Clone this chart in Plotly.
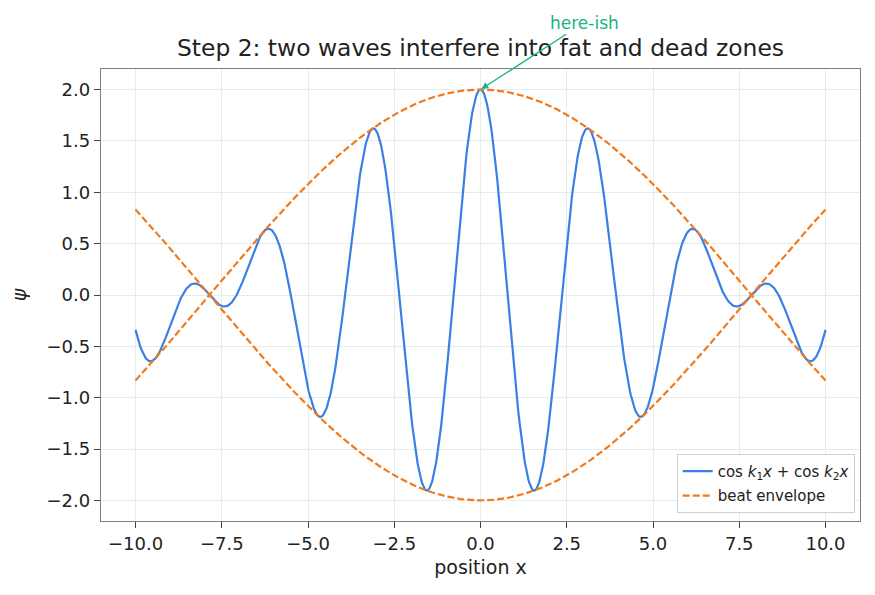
import numpy as np
import plotly.graph_objects as go

# Parameters: carrier k=2 (period pi), beat 0.2
k1 = 1.8
k2 = 2.2
x_range = [-10.0, 10.0]
n_points = 1000

x = np.linspace(x_range[0], x_range[1], n_points)
psi = np.cos(k1 * x) + np.cos(k2 * x)
env = 2 * np.cos((k2 - k1) / 2 * x)

xticks = [-10.0, -7.5, -5.0, -2.5, 0.0, 2.5, 5.0, 7.5, 10.0]
yticks = [-2.0, -1.5, -1.0, -0.5, 0.0, 0.5, 1.0, 1.5, 2.0]

BLUE = "#3b7fe6"
ORANGE = "#f07a1c"
GREEN = "#19b47f"
FONT = "DejaVu Sans"

fig = go.Figure()
fig.add_trace(go.Scatter(x=x, y=psi, mode="lines",
                         line=dict(color=BLUE, width=2.2),
                         name="cos <i>k</i><sub>1</sub><i>x</i> + cos <i>k</i><sub>2</sub><i>x</i>"))
fig.add_trace(go.Scatter(x=x, y=env, mode="lines",
                         line=dict(color=ORANGE, width=2.2, dash="7px,3px"),
                         name="beat envelope", legendgroup="env"))
fig.add_trace(go.Scatter(x=x, y=-env, mode="lines",
                         line=dict(color=ORANGE, width=2.2, dash="7px,3px"),
                         name="beat envelope", legendgroup="env", showlegend=False))

fig.add_annotation(x=0, y=2.0, ax=3.0, ay=2.65, xref="x", yref="y",
                   axref="x", ayref="y", text="here-ish", showarrow=True,
                   arrowhead=2, arrowsize=1, arrowwidth=1.4, arrowcolor=GREEN,
                   standoff=1,
                   font=dict(color=GREEN, size=17, family=FONT))

axis_common = dict(showline=True, linecolor="#808080", linewidth=1.4, mirror=True,
                   ticks="outside", ticklen=6, tickcolor="#404040", tickwidth=1.4,
                   showgrid=True, gridcolor="#e6ebec", gridwidth=1,
                   zeroline=False, tickfont=dict(size=18, color="#222222", family=FONT))

fig.update_layout(
    width=875, height=595,
    margin=dict(l=101, r=15, t=69, b=74),
    paper_bgcolor="white", plot_bgcolor="white",
    font=dict(family=FONT, color="#222222"),
    title=dict(text="Step 2: two waves interfere into fat and dead zones",
               x=0.5, xref="paper", xanchor="center", y=1 - 48 / 595, yanchor="middle",
               font=dict(size=23.4, color="#222222", family=FONT)),
    xaxis=dict(range=[-11, 11], tickvals=xticks,
               ticktext=[f"{v:.1f}".replace("-", "\u2212") for v in xticks],
               title=dict(text="position x", font=dict(size=19, family=FONT), standoff=7),
               **axis_common),
    yaxis=dict(range=[-2.2, 2.2], tickvals=yticks,
               ticktext=[f"{v:.1f}".replace("-", "\u2212") for v in yticks],
               title=dict(text="<i>ψ</i>", font=dict(size=19, family=FONT), standoff=14),
               **axis_common),
    legend=dict(x=0.993, y=0.018, xanchor="right", yanchor="bottom",
                bgcolor="rgba(255,255,255,0.85)", bordercolor="#d0d0d0", borderwidth=1,
                font=dict(size=15, family=FONT, color="#222222"),
                tracegroupgap=2),
    showlegend=True,
)

fig.write_html("out.html")
